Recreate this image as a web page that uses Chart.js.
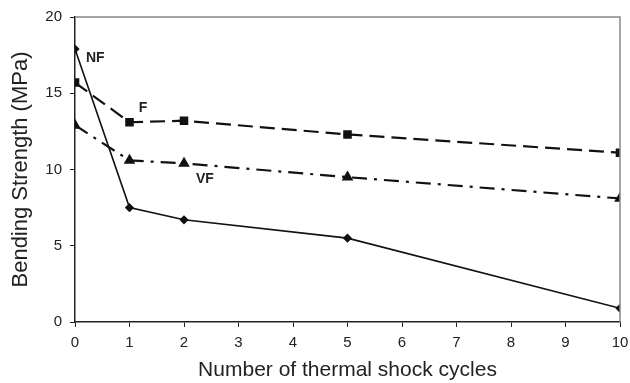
<!DOCTYPE html>
<html lang="en">
<head>
<meta charset="UTF-8">
<title>Bending strength vs thermal shock cycles</title>
<script src="https://cdn.jsdelivr.net/npm/chart.js"></script>
<style>
    html, body { margin: 0; padding: 0; background: white; }
    .wrap { width: 630px; height: 383px; }
</style>
</head>
<body>
<div class="wrap"><canvas id="chart" width="630" height="383"></canvas></div>
<script>
    // values
    const cycles = [0, 1, 2, 5, 10];
    const nfValues = [17.9, 7.5, 6.7, 5.5, 0.9];
    const fValues = [15.7, 13.1, 13.2, 12.3, 11.1];
    const vfValues = [12.9, 10.6, 10.4, 9.5, 8.1];
    const seriesNames = ['NF', 'F', 'VF'];
    // where the series names sit (data units)
    const labelSpots = [[0.2, 17.3], [1.17, 14.0], [2.22, 9.4]];

    const font = "'Liberation Sans', Arial, sans-serif";

    function pts(vals) {
        return cycles.map((c, i) => ({ x: c, y: vals[i] }));
    }

    // grey frame on top/right and the series name labels
    const extras = {
        id: 'extras',
        afterDatasetsDraw(chart) {
            const ctx = chart.ctx;
            const a = chart.chartArea;
            const xs = chart.scales.x, ys = chart.scales.y;
            ctx.save();
            ctx.strokeStyle = '#888';
            ctx.lineWidth = 1.5;
            ctx.beginPath();
            ctx.moveTo(a.left, a.top);
            ctx.lineTo(a.right, a.top);
            ctx.lineTo(a.right, a.bottom);
            ctx.stroke();
            ctx.fillStyle = '#222';
            ctx.font = 'bold 14px ' + font;
            ctx.textAlign = 'left';
            ctx.textBaseline = 'middle';
            seriesNames.forEach((n, i) => {
                ctx.fillText(n, xs.getPixelForValue(labelSpots[i][0]), ys.getPixelForValue(labelSpots[i][1]));
            });
            ctx.restore();
        }
    };

    new Chart(document.getElementById('chart'), {
        type: 'line',
        data: {
            datasets: [{
                label: 'NF',
                data: pts(nfValues),
                borderColor: '#111',
                backgroundColor: '#111',
                borderWidth: 1.6,
                pointStyle: 'rectRot',
                pointRadius: 3.5
            }, {
                label: 'F',
                data: pts(fValues),
                borderColor: '#111',
                backgroundColor: '#111',
                borderWidth: 2.2,
                borderDash: [15, 7],
                pointStyle: 'rect',
                pointRadius: 4.5
            }, {
                label: 'VF',
                data: pts(vfValues),
                borderColor: '#111',
                backgroundColor: '#111',
                borderWidth: 2.2,
                borderDash: [15, 7, 3, 7],
                pointStyle: 'triangle',
                pointRadius: 4.5
            }]
        },
        options: {
            responsive: false,
            animation: false,
            layout: { padding: { top: 17, right: 0, left: 0, bottom: 0 } },
            plugins: { legend: { display: false }, tooltip: { enabled: false } },
            scales: {
                x: {
                    type: 'linear',
                    min: 0, max: 10,
                    ticks: { stepSize: 1, color: '#222', font: { family: font, size: 15 }, padding: 7 },
                    grid: { drawOnChartArea: false, tickLength: 5, color: '#222' },
                    border: { color: '#222', width: 1.5 },
                    title: { display: true, text: 'Number of thermal shock cycles', color: '#222',
                             font: { family: font, size: 21 }, padding: { top: 0, bottom: 0 } },
                    afterFit(s) { s.height = 61; s.paddingRight = 10; s.paddingLeft = 0; }
                },
                y: {
                    min: 0, max: 20,
                    ticks: { stepSize: 5, color: '#222', font: { family: font, size: 15 }, padding: 8 },
                    grid: { drawOnChartArea: false, tickLength: 5, color: '#222' },
                    border: { color: '#222', width: 1.5 },
                    title: { display: true, text: 'Bending Strength (MPa)', color: '#222',
                             font: { family: font, size: 22 }, padding: { top: 8, bottom: 0 } },
                    afterFit(s) { s.width = 75; }
                }
            }
        },
        plugins: [extras]
    });
</script>
</body>
</html>
